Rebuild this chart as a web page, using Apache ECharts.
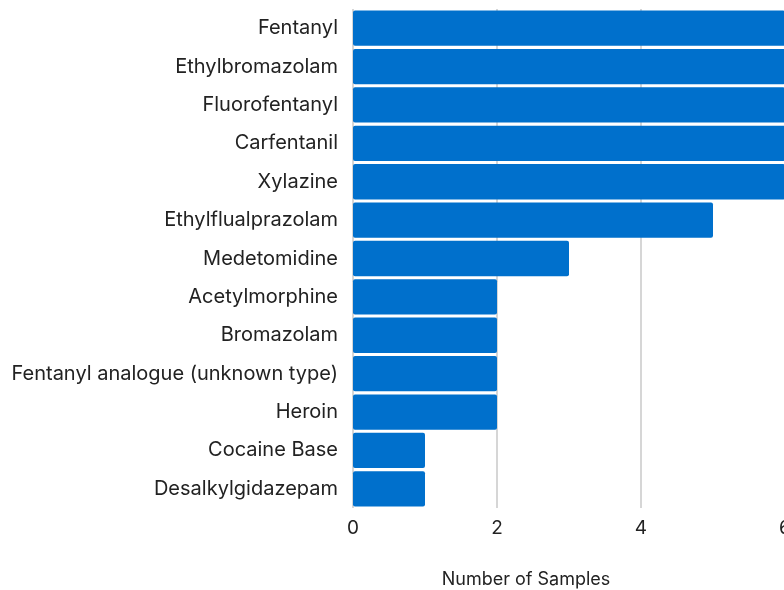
<!DOCTYPE html>
<html>
<head>
<meta charset="utf-8">
<script src="https://cdn.jsdelivr.net/npm/echarts@6/dist/echarts.min.js"></script>
<style>
html, body { margin: 0; padding: 0; background: #fff; }
#chart { width: 784px; height: 590px; }
</style>
</head>
<body>
<div id="chart"></div>
<script>
// substances, top to bottom
const substances = [
  'Fentanyl', 'Ethylbromazolam', 'Fluorofentanyl', 'Carfentanil', 'Xylazine',
  'Ethylflualprazolam', 'Medetomidine', 'Acetylmorphine', 'Bromazolam',
  'Fentanyl analogue (unknown type)', 'Heroin', 'Cocaine Base', 'Desalkylgidazepam'
]
// top five run off the right edge, so these are guesses above 6
const sampleCounts = [12, 10, 9, 8, 7, 5, 3, 2, 2, 2, 2, 1, 1]
const xTicks = [0, 2, 4, 6]

const chart = echarts.init(document.getElementById('chart'))
const font = 'Inter, "Noto Sans", sans-serif'

const option = {
  animation: false,
  grid: { left: 353, right: -1, top: 9, bottom: 82, outerBoundsMode: 'none', containLabel: false },
  title: {
    text: 'Number of Samples',
    left: 521,
    top: 566,
    textAlign: 'center',
    textStyle: { fontFamily: font, fontSize: 18, fontWeight: 'normal', color: '#222' }
  },
  xAxis: {
    type: 'value',
    min: xTicks[0],
    max: xTicks[xTicks.length - 1],
    interval: 2,
    axisLine: { show: false },
    axisTick: { show: false },
    axisLabel: { fontFamily: font, fontSize: 19, color: '#222', margin: 11 },
    splitLine: { lineStyle: { color: '#c8c8c8', width: 1.5 } }
  },
  yAxis: {
    type: 'category',
    inverse: true,
    data: substances,
    axisLine: { show: false },
    axisTick: { show: false },
    axisLabel: { fontFamily: font, fontSize: 20, color: '#222', margin: 15 }
  },
  series: [{
    type: 'bar',
    data: sampleCounts,
    barCategoryGap: '8%',
    itemStyle: { color: '#0070cc', borderRadius: 2 }
  }]
}
chart.setOption(option)
</script>
</body>
</html>
